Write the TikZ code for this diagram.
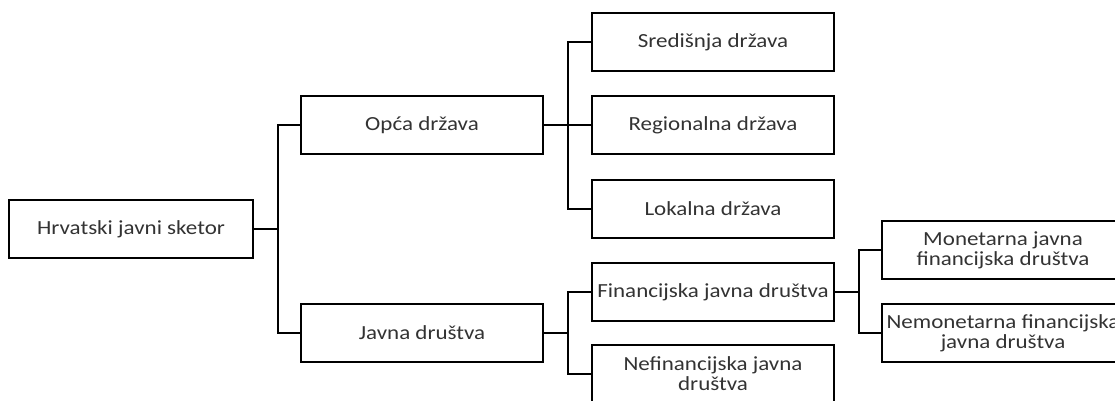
\documentclass[tikz,border=0pt]{standalone}
\usepackage{fontspec}
\setmainfont{Carlito}[FakeStretch=1.15]
\begin{document}
\begin{tikzpicture}[x=1pt,y=-1pt,
  box/.style={draw=black,line width=2pt,minimum width=242pt,minimum height=58pt,inner sep=0pt,
    align=center,font=\fontsize{20}{20}\selectfont,text=black!80},
  conn/.style={draw=black,line width=2pt}]
\clip (0,0) rectangle (1115,401);
\fill[white] (0,0) rectangle (1115,401);
\node[box,minimum width=244pt] (root) at (131,229) {Hrvatski javni sketor};
\node[box] (opca) at (422,125) {Opća država};
\node[box] (javna) at (422,333) {Javna društva};
\node[box] (sred) at (713,42) {Središnja država};
\node[box] (reg) at (713,125) {Regionalna država};
\node[box] (lok) at (713,209) {Lokalna država};
\node[box] (fin) at (713,292) {Financijska javna društva};
\node[box] (nefin) at (713,374) {Nefinancijska javna\\društva};
\node[box] (mon) at (1003,250) {Monetarna javna\\financijska društva};
\node[box] (nemon) at (1003,333) {Nemonetarna financijska\\javna društva};
\foreach \a/\b in {root/opca,root/javna,opca/sred,opca/reg,opca/lok,javna/fin,javna/nefin,fin/mon,fin/nemon}
  \draw[conn] (\a.east) -- ++(24,0) |- (\b.west);
\end{tikzpicture}
\end{document}
